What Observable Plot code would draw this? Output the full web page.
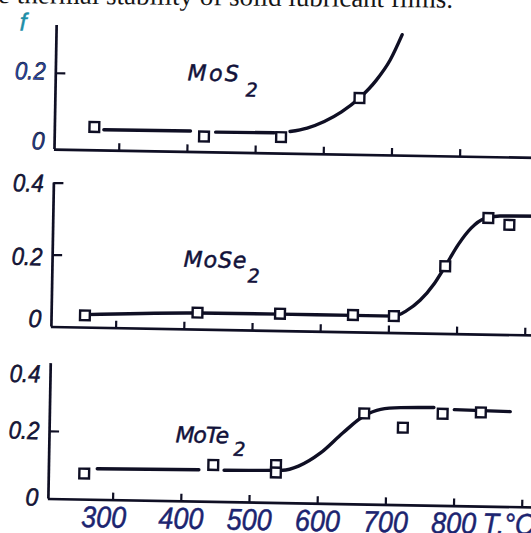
<!DOCTYPE html>
<html>
<head>
<meta charset="utf-8">
<script src="https://cdn.jsdelivr.net/npm/d3@7"></script>
<script src="https://cdn.jsdelivr.net/npm/@observablehq/plot@0.6"></script>
<style>
  html, body { margin:0; padding:0; background:#fff; width:531px; height:533px; overflow:hidden; }
  #wrap { position:absolute; left:0; top:0; width:560px; height:533px; transform: rotate(1deg); transform-origin: 50px 320px; }
  .panel { position:absolute; left:0; }
  .panel svg text { font-style: italic; }
  #cap { position:absolute; left:-2px; top:-19.5px; font: 27px/27px "Liberation Serif", serif; color:#151515; white-space:nowrap; transform: rotate(0.6deg); transform-origin: 0 20px; z-index:2; }
</style>
</head>
<body>
<div id="cap">e thermal stability of solid lubricant films.</div>
<div id="wrap"></div>
<script>
// ---------- data ----------
const xTicksTop = [300, 400, 500, 600, 700, 800];
const xTicks = [300, 400, 500, 600, 700, 800, 900];
const xTickLabelFirst = [300];
const xTickLabels = [400, 500, 600, 700, 800];
const xUnitLabel = "T,°C";
const yLabelName = "f";

// MoS2
const mos2PointT = [263, 424, 537, 651];
const mos2PointF = [0.061, 0.041, 0.043, 0.149];
const mos2LineT = [277, 404, 441, 527, 550, 575, 600, 625, 651, 675, 695, 712];
const mos2LineF = [0.054, 0.055, 0.053, 0.054, 0.058, 0.068, 0.086, 0.112, 0.149, 0.196, 0.250, 0.317];
const mos2LineSeg = [0, 0, 1, 1, 2, 2, 2, 2, 2, 2, 2, 2];

// MoSe2
const mose2PointT = [254, 419, 540, 647, 707, 781, 843, 874];
const mose2PointF = [0.034, 0.047, 0.048, 0.048, 0.047, 0.188, 0.324, 0.306];
const mose2LineT = [254, 419, 540, 647, 707, 725, 745, 765, 781, 800, 818, 837, 860, 951];
const mose2LineF = [0.036, 0.046, 0.047, 0.047, 0.047, 0.062, 0.092, 0.138, 0.188, 0.250, 0.295, 0.322, 0.330, 0.332];
const mose2LineSeg = [0, 0, 0, 0, 0, 0, 0, 0, 0, 0, 0, 0, 0, 0];

// MoTe2
const mote2PointT = [257, 446, 538, 538, 666, 723, 781, 837];
const mote2PointF = [0.077, 0.109, 0.112, 0.090, 0.269, 0.229, 0.272, 0.278];
const mote2LineT = [276, 425, 462, 548, 571, 603, 635, 666, 690, 719, 768, 798, 880];
const mote2LineF = [0.092, 0.094, 0.094, 0.097, 0.110, 0.150, 0.210, 0.262, 0.282, 0.288, 0.290, 0.285, 0.282];
const mote2LineSeg = [0, 0, 1, 1, 1, 1, 1, 1, 1, 1, 1, 2, 2];

// ---------- layout ----------
const W = 560, ML = 51;
const X0 = 205.1, X1 = 951.5;
const PXT = (W - ML) / (X1 - X0);
const INK = "#0f0f24";
const LAB = "#1c2470";
const rows = (T, F, S) => T.map((t, i) => ({T: t, f: F[i], seg: S ? S[i] : 0}));

function yLab(v, dy, color) {
  return Plot.axisY([v], {anchor: "left", tickSize: 0, tickPadding: 10, fontSize: 25, color, dy,
    tickFormat: d => String(d)});
}
function xLab(ticks, dx) {
  return Plot.axisX(ticks, {anchor: "bottom", tickSize: 0, tickPadding: 6, fontSize: 30, color: LAB, dx});
}
function chem(main, sub, dx, dy, sdx, sdy) {
  return [
    Plot.text([main], {text: d => d, frameAnchor: "top-left", textAnchor: "start", lineAnchor: "bottom",
      dx, dy, fontSize: 22, fontFamily: "DejaVu Sans", fill: "#12123a", stroke: "#12123a", strokeWidth: 0.5}),
    Plot.text([sub], {text: d => d, frameAnchor: "top-left", textAnchor: "start", lineAnchor: "bottom",
      dx: sdx, dy: sdy, fontSize: 19, fontFamily: "DejaVu Sans", fill: "#12123a", stroke: "#12123a", strokeWidth: 0.5})
  ];
}

function panel(cfg) {
  const {top, height, mt, mb, ymax, xt, yt, pts, line, extra} = cfg;
  const ppu = (height - mt - mb) / ymax;
  const marks = [
    Plot.ruleY([0], {stroke: INK, strokeWidth: 2.7}),
    Plot.ruleX([X0], {y1: 0, y2: ymax, stroke: INK, strokeWidth: 2.7}),
    Plot.ruleX(xt, {x: d => d, y1: 0, y2: 7 / ppu, stroke: INK, strokeWidth: 2.2}),
    Plot.ruleY(yt, {y: d => d, x1: X0, x2: X0 + 10 / PXT, stroke: INK, strokeWidth: 2.2}),
    Plot.line(line, {x: "T", y: "f", z: "seg", curve: "monotone-x", stroke: INK, strokeWidth: 3.4}),
    Plot.dot(pts, {x: "T", y: "f", symbol: "square", r: 5.5, fill: "white", stroke: INK, strokeWidth: 2.4}),
    ...extra
  ];
  const svg = Plot.plot({
    width: W, height, marginLeft: ML, marginRight: 0, marginTop: mt, marginBottom: mb,
    x: {domain: [X0, X1], axis: null, label: null},
    y: {domain: [0, ymax], axis: null, label: null},
    style: {background: "transparent", fontFamily: "'Liberation Sans', Arial, sans-serif", overflow: "visible"},
    marks
  });
  const div = document.createElement("div");
  div.className = "panel";
  div.style.top = top + "px";
  div.appendChild(svg);
  document.getElementById("wrap").appendChild(div);
  // condensed, inky numerals like the original lettering
  svg.querySelectorAll('[aria-label="y-axis tick label"] text').forEach(t => {
    t.setAttribute("textLength", t.textContent.length === 1 ? 13 : 31);
    t.setAttribute("lengthAdjust", "spacingAndGlyphs");
    t.style.stroke = "currentColor"; t.style.strokeWidth = "0.5px";
  });
  svg.querySelectorAll('[aria-label="x-axis tick label"] text').forEach(t => {
    t.setAttribute("textLength", 45);
    t.setAttribute("lengthAdjust", "spacingAndGlyphs");
    t.style.stroke = LAB; t.style.strokeWidth = "0.5px";
  });
  svg.querySelectorAll("text").forEach(t => {
    const s = t.textContent;
    if (s === "MoS") t.style.letterSpacing = "2.5px";
    if (s === "MoSe") t.style.letterSpacing = "1px";
    if (s === "MoTe") t.style.letterSpacing = "-1px";
    if (s === xUnitLabel) {
      t.setAttribute("textLength", 52); t.setAttribute("lengthAdjust", "spacingAndGlyphs");
      t.style.stroke = LAB; t.style.strokeWidth = "0.5px";
    }
  });
  return svg;
}

// top: MoS2
panel({
  top: 0, height: 160, mt: 25, mb: 11, ymax: 0.325,
  xt: xTicksTop, yt: [0.2],
  pts: rows(mos2PointT, mos2PointF), line: rows(mos2LineT, mos2LineF, mos2LineSeg),
  extra: [
    yLab(0.2, -1.4, "#2847b0"),
    yLab(0, -8, "#233a8f"),
    Plot.text([yLabelName], {text: d => d, frameAnchor: "top-left", textAnchor: "start", lineAnchor: "bottom",
      dx: -37, dy: 5.5, fontSize: 25, fill: "#1e8fa8", stroke: "#1e8fa8", strokeWidth: 0.4}),
    ...chem("MoS", "2", 131.7, 52.5, 190, 67.5)
  ]
});

// middle: MoSe2
panel({
  top: 170, height: 170, mt: 12.5, mb: 13.5, ymax: 0.4,
  xt: xTicks, yt: [0.2, 0.4],
  pts: rows(mose2PointT, mose2PointF), line: rows(mose2LineT, mose2LineF, mose2LineSeg),
  extra: [
    yLab(0.4, 1, "#17184a"),
    yLab(0.2, 2.5, "#17184a"),
    yLab(0, -7.5, "#17184a"),
    ...chem("MoSe", "2", 131, 81.5, 195.4, 96)
  ]
});

// bottom: MoTe2
panel({
  top: 340, height: 193, mt: 23.1, mb: 34.5, ymax: 0.4,
  xt: xTicks, yt: [0.2],
  pts: rows(mote2PointT, mote2PointF), line: rows(mote2LineT, mote2LineF, mote2LineSeg),
  extra: [
    yLab(0.4, 11, "#17184a"),
    yLab(0.2, 0, "#17184a"),
    yLab(0, -1, "#17184a"),
    xLab(xTickLabelFirst, -9),
    xLab(xTickLabels, 0),
    Plot.text([xUnitLabel], {text: d => d, frameAnchor: "bottom-left", textAnchor: "start", lineAnchor: "top",
      dx: 434.5, dy: 6, fontSize: 30, fill: LAB}),
    ...chem("MoTe", "2", 126, 76.4, 184, 89)
  ]
});
</script>
</body>
</html>
